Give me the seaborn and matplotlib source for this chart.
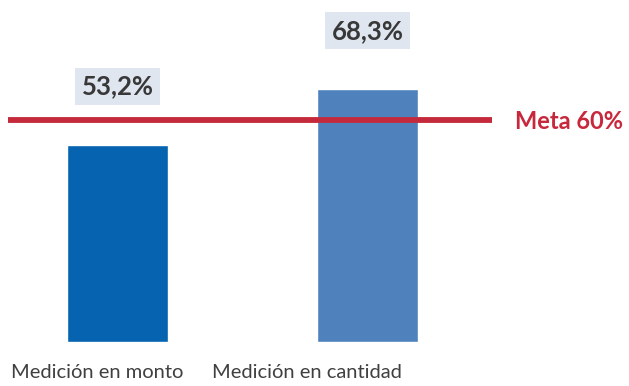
import matplotlib
matplotlib.use("Agg")
import matplotlib.pyplot as plt
import matplotlib.transforms as mtransforms
import seaborn as sns

categories = ["Medición en monto", "Medición en cantidad"]
values = [53.2, 68.3]
value_labels = ["53,2%", "68,3%"]
goal = 60
goal_label = "Meta 60%"
bar_colors = ["#0563b0", "#4f81bd"]

sns.set_theme(style="white")
plt.rcParams["font.family"] = ["Lato", "DejaVu Sans"]

fig = plt.figure(figsize=(6.29, 3.86), dpi=100)
ax = fig.add_axes([0, 44 / 386, 1, 342 / 386])

sns.barplot(x=categories, y=values, hue=categories, palette=bar_colors,
            width=0.404, saturation=1, legend=False, ax=ax)

ax.set_xlim(-0.47, -0.47 + 629 / 250)
ax.set_ylim(0, 92.4)

# goal line and its label
ax.plot([-0.438, 1.498], [goal, goal], color="#c42a3c", lw=4.2, solid_capstyle="butt")
ax.text(1.59, goal - 0.5, goal_label, color="#c8283c", fontsize=17, fontweight="bold",
        va="center", ha="left")

# value labels above bars
for i, (v, lab) in enumerate(zip(values, value_labels)):
    ax.text(i, v + 15.8, lab, ha="center", va="center", fontsize=18.5, fontweight="bold",
            color="#383838",
            bbox=dict(boxstyle="square,pad=0.26", fc="#e0e6f0", ec="none"))

ax.set_xticks(range(len(categories)))
ax.set_xticklabels(categories, fontsize=14.5, color="#404040")
ax.tick_params(axis="x", length=0, pad=16)
# category labels sit somewhat left of their bars
for lbl, dx in zip(ax.get_xticklabels(), [-20, -61]):
    lbl.set_transform(lbl.get_transform() +
                      mtransforms.ScaledTranslation(dx / 100, 0, fig.dpi_scale_trans))
ax.set_yticks([])
ax.set_xlabel("")
ax.set_ylabel("")
for s in ax.spines.values():
    s.set_visible(False)

fig.savefig("out.png", dpi=100)
